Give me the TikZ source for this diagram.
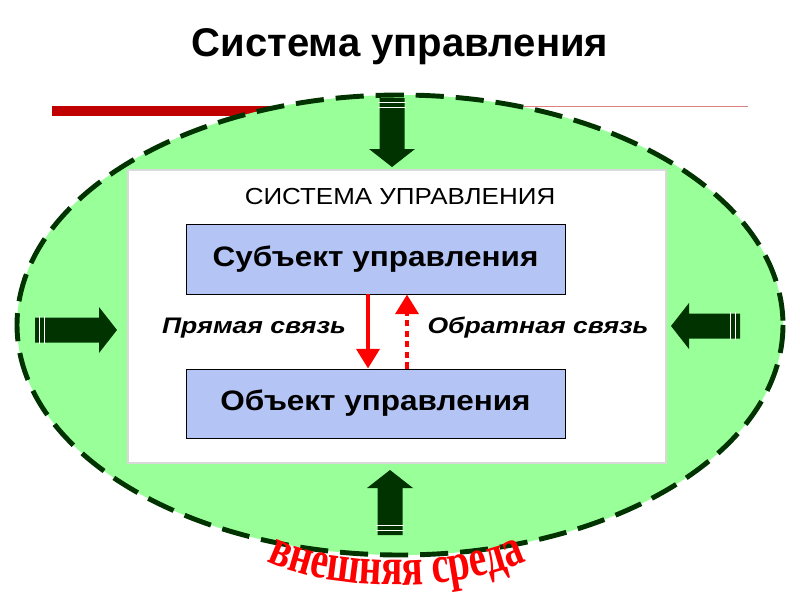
\documentclass[tikz,border=0pt]{standalone}
\usepackage{fontspec}
\setmainfont{Liberation Sans}
\newfontfamily\envfont{Liberation Serif}
\usetikzlibrary{arrows.meta, calc, decorations.text}

\tikzset{
  every node/.style={inner sep=0pt},
  wide/.style={xscale=#1, transform shape},
  blockbox/.style={draw=black, line width=0.6pt, fill=blockcol, wide=1.12,
    minimum width=8.46cm, minimum height=1.75cm,
    font=\fontsize{20}{24}\selectfont\bfseries},
  linklabel/.style={wide=1.18, font=\fontsize{16}{19}\selectfont\bfseries\itshape},
  pics/bigarrow/.style={code={
    \fill[arrowcol] (0,-12.5) -- (#1-18,-12.5) -- (#1-18,-23) -- (#1,0)
      -- (#1-18,23) -- (#1-18,12.5) -- (0,12.5) -- cycle;
    \draw[white, line width=1.3pt] (4.5,-14) -- (4.5,14) (9.5,-14) -- (9.5,14);
  }}
}

\begin{document}
\begin{tikzpicture}[x=0.025cm, y=-0.025cm, >=Stealth]
  % Bounding box (800x600 px)
  \path[use as bounding box] (0,0) rectangle (800,600);

  % Colors.
  \definecolor{envcol}{RGB}{153,255,153}
  \definecolor{rimcol}{RGB}{0,51,0}
  \definecolor{arrowcol}{RGB}{0,51,0}
  \definecolor{blockcol}{RGB}{180,196,245}
  \definecolor{barcol}{RGB}{192,0,0}

  % Title.
  \node (title) at (400,47) {\fontsize{28.5}{34}\selectfont\bfseries Система управления};

  % Red rule under the title.
  \draw[barcol, line width=7pt] (52,111) -- (400,111);
  \draw[barcol!50, line width=0.7pt] (400,106.5) -- (748,106.5);

  % Environment.
  \draw[fill=envcol, draw=rimcol, line width=3.5pt, dash pattern=on 20pt off 8.5pt]
    (400,325) ellipse [x radius=383, y radius=230];

  % System frame.
  \node[draw=black!15, line width=1pt, fill=white, minimum width=13.45cm,
    minimum height=7.325cm] (frame) at (397,316.5) {};
  \node[wide=1.12] (syslabel) at (400,197) {\fontsize{16.5}{20}\selectfont СИСТЕМА УПРАВЛЕНИЯ};

  % Subject and object.
  \node[blockbox] (subj) at (375.5,259) {Субъект управления};
  \node[blockbox, minimum height=1.725cm] (obj) at (375.5,403.5) {Объект управления};

  % Direct and feedback links.
  \draw[red, line width=3.5pt, -{Triangle[width=16pt, length=14pt]}]
    ($(subj.south)+(-7.5,0)$) -- ($(obj.north)+(-7.5,0)$);
  \draw[red, line width=3.5pt, dash pattern=on 4.5pt off 3pt,
    -{Triangle[width=16pt, length=14pt]}]
    ($(obj.north)+(31.5,0)$) -- ($(subj.south)+(31.5,0)$);
  \node[linklabel] (direct) at (254,328) {Прямая связь};
  \node[linklabel] (feedback) at (538,328) {Обратная связь};

  % Influences of the environment.
  \pic[rotate=-90] at (392,98) {bigarrow=69};
  \pic at (35,330) {bigarrow=82};
  \pic[rotate=180] at (740,326) {bigarrow=69};
  \pic[rotate=90] at (390,535) {bigarrow=65};

  % Environment label along an arc.
  \path[decorate, decoration={text effects along path,
      text={внешняя среда},
      text effects/.cd, text along path,
      every character/.style={text=red, yscale=1.35,
        font=\envfont\fontsize{28}{30}\selectfont\bfseries}}]
    (267,561) .. controls (332,594) and (472,594) .. (540,554);
\end{tikzpicture}
\end{document}
